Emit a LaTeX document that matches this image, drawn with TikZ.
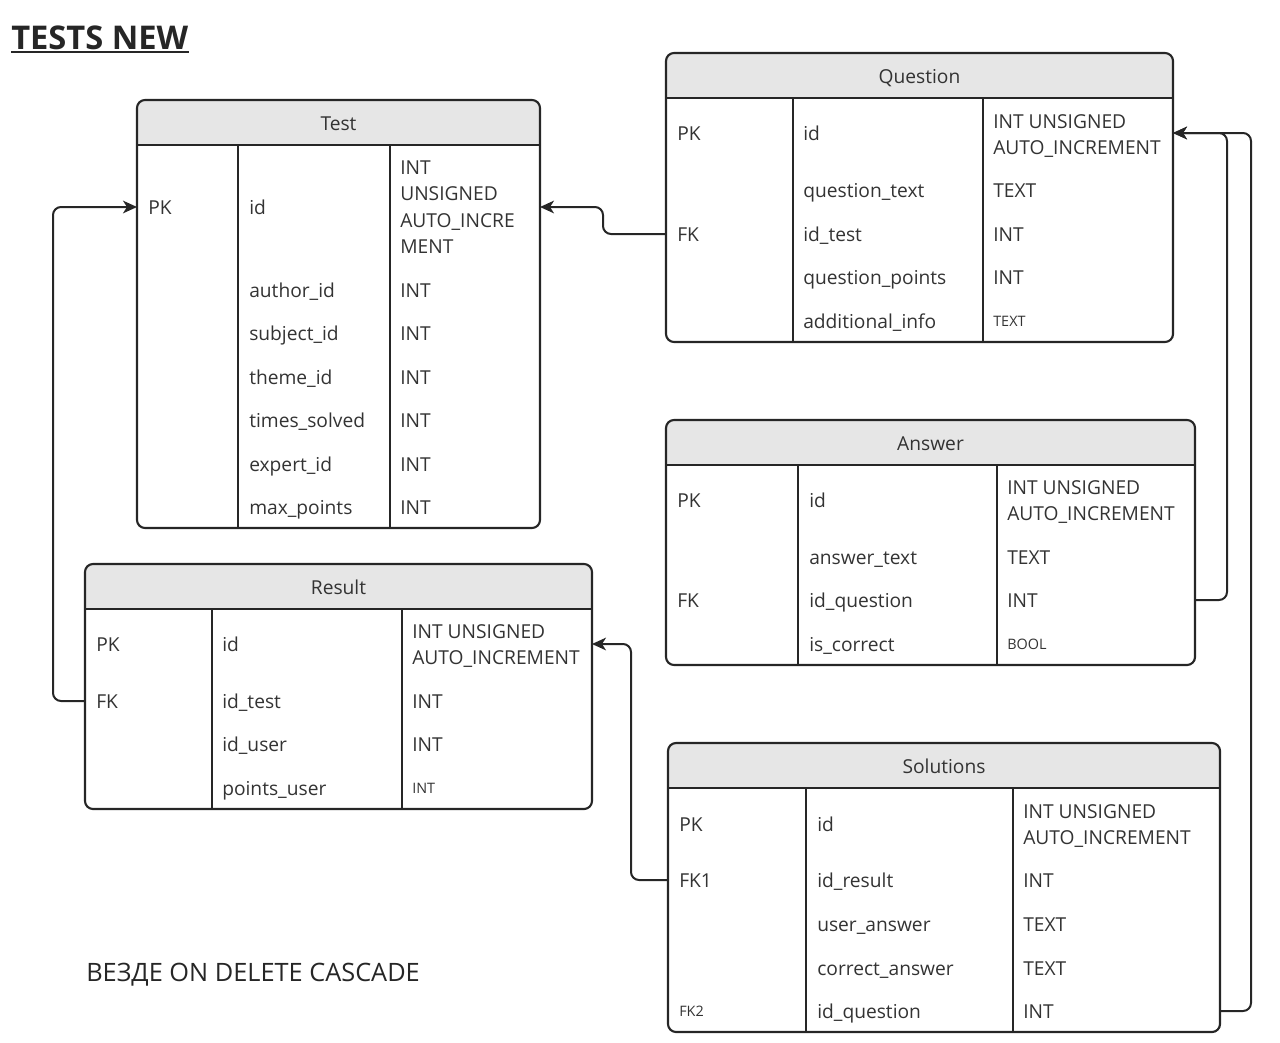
\documentclass[tikz,border=0pt]{standalone}
\usepackage{fontspec}
\setmainfont{Open Sans}
\usetikzlibrary{arrows.meta}
\definecolor{ink}{HTML}{333333}
\definecolor{hdr}{HTML}{E6E6E6}
\definecolor{lin}{HTML}{262626}
\tikzset{
 ftxt/.style={anchor=base west, inner sep=0pt, text=ink, font=\fontsize{14.4}{16}\selectfont},
 fsmall/.style={ftxt, font=\fontsize{10.8}{12}\selectfont},
 htxt/.style={anchor=base, inner sep=0pt, text=ink, font=\fontsize{14.4}{16}\selectfont},
 frame/.style={draw=lin, line width=1.6pt, rounded corners=6pt},
 gridline/.style={draw=lin, line width=1.6pt},
 conn/.style={draw=lin, line width=1.5pt, rounded corners=6pt, -{Stealth[length=10.5pt,width=9.5pt,inset=3pt]}},
}
\newcommand\ft[4]{\node[ftxt] (#1) at (#2,{#3+7.5}) {#4};}
\newcommand\fs[4]{\node[fsmall] (#1) at (#2,{#3+5.5}) {#4};}
\newcommand\tbl[8]{%
 \begin{scope}
 \clip (#2,#3) rectangle (#4,{#3+45});
 \fill[hdr, rounded corners=6pt] (#2,#3) rectangle (#4,#5);
 \end{scope}
 \draw[frame] (#2,#3) rectangle (#4,#5);
 \draw[gridline] (#2,{#3+45}) -- (#4,{#3+45});
 \draw[gridline] (#6,{#3+45}) -- (#6,#5);
 \draw[gridline] (#7,{#3+45}) -- (#7,#5);
 \node[htxt] (#1) at ({(#2+#4)/2},{#3+22.5+7.5}) {#8};
}
\begin{document}
\begin{tikzpicture}[x=0.75pt,y=-0.75pt]
\useasboundingbox (0,0) rectangle (1280,1042);
% title
\node[anchor=base west, inner sep=0pt, text=black!85, font=\fontsize{24.5}{28}\selectfont\bfseries] (title) at (11,49) {TESTS NEW};
\draw[line width=1.5pt, black!85] ([yshift=-2.5pt]title.base west) -- ([yshift=-2.5pt]title.base east);
% tables
\tbl{test}{137}{100}{540}{528}{238}{390}{Test}
\tbl{question}{666}{53}{1173}{342}{793}{983}{Question}
\tbl{answer}{666}{420}{1195}{665}{798}{997}{Answer}
\tbl{result}{85}{564}{592}{809}{212}{402}{Result}
\tbl{solutions}{668}{743}{1220}{1032}{806}{1013}{Solutions}
% Test fields
\ft{t1}{148}{207}{PK}
\ft{t2}{249}{207}{id}
\ft{t3}{400}{167}{INT}
\ft{t4}{400}{193}{UNSIGNED}
\ft{t5}{400}{220}{AUTO\_INCRE}
\ft{t6}{400}{246}{MENT}
\ft{t7}{249}{290}{author\_id}
\ft{t8}{400}{290}{INT}
\ft{t9}{249}{333}{subject\_id}
\ft{t10}{400}{333}{INT}
\ft{t11}{249}{377}{theme\_id}
\ft{t12}{400}{377}{INT}
\ft{t13}{249}{420}{times\_solved}
\ft{t14}{400}{420}{INT}
\ft{t15}{249}{464}{expert\_id}
\ft{t16}{400}{464}{INT}
\ft{t17}{249}{507}{max\_points}
\ft{t18}{400}{507}{INT}
% Question fields
\ft{q1}{677}{133}{PK}
\ft{q2}{803}{133}{id}
\ft{q3}{993}{121}{INT UNSIGNED}
\ft{q4}{993}{147}{AUTO\_INCREMENT}
\ft{q5}{803}{190}{question\_text}
\ft{q6}{993}{190}{TEXT}
\ft{q7}{677}{234}{FK}
\ft{q8}{803}{234}{id\_test}
\ft{q9}{993}{234}{INT}
\ft{q10}{803}{277}{question\_points}
\ft{q11}{993}{277}{INT}
\ft{q12}{803}{321}{additional\_info}
\fs{q13}{993}{321}{TEXT}
% Answer fields
\ft{a1}{677}{500}{PK}
\ft{a2}{809}{500}{id}
\ft{a3}{1007}{487}{INT UNSIGNED}
\ft{a4}{1007}{513}{AUTO\_INCREMENT}
\ft{a5}{809}{557}{answer\_text}
\ft{a6}{1007}{557}{TEXT}
\ft{a7}{677}{600}{FK}
\ft{a8}{809}{600}{id\_question}
\ft{a9}{1007}{600}{INT}
\ft{a10}{809}{644}{is\_correct}
\fs{a11}{1007}{644}{BOOL}
% Result fields
\ft{r1}{96}{644}{PK}
\ft{r2}{222}{644}{id}
\ft{r3}{412}{631}{INT UNSIGNED}
\ft{r4}{412}{657}{AUTO\_INCREMENT}
\ft{r5}{96}{701}{FK}
\ft{r6}{222}{701}{id\_test}
\ft{r7}{412}{701}{INT}
\ft{r8}{222}{744}{id\_user}
\ft{r9}{412}{744}{INT}
\ft{r10}{222}{788}{points\_user}
\fs{r11}{412}{788}{INT}
% Solutions fields
\ft{s1}{679}{824}{PK}
\ft{s2}{817}{824}{id}
\ft{s3}{1023}{811}{INT UNSIGNED}
\ft{s4}{1023}{837}{AUTO\_INCREMENT}
\ft{s5}{679}{880}{FK1}
\ft{s6}{817}{880}{id\_result}
\ft{s7}{1023}{880}{INT}
\ft{s8}{817}{924}{user\_answer}
\ft{s9}{1023}{924}{TEXT}
\ft{s10}{817}{968}{correct\_answer}
\ft{s11}{1023}{968}{TEXT}
\fs{s12}{679}{1011}{FK2}
\ft{s13}{817}{1011}{id\_question}
\ft{s14}{1023}{1011}{INT}
% note
\node[anchor=base west, inner sep=0pt, text=black!85, font=\fontsize{19}{22}\selectfont] (note) at (86,981) {ВЕЗДЕ ON DELETE CASCADE};
% connector endpoints
\coordinate (testL) at (137,207);
\coordinate (testR) at (540,207);
\coordinate (qfk) at (666,234);
\coordinate (qR) at (1173,133);
\coordinate (afk) at (1195,600);
\coordinate (rfk) at (85,701);
\coordinate (resR) at (592,644);
\coordinate (sfk1) at (668,880);
\coordinate (sfk2) at (1220,1011);
% connectors
\draw[conn] (qfk) -- ++(-63,0) |- (testR);
\draw[conn] (rfk) -- ++(-32,0) |- (testL);
\draw[conn] (sfk1) -- ++(-37,0) |- (resR);
\draw[conn] (afk) -- ++(32,0) |- (qR);
\draw[conn] (sfk2) -- ++(31,0) |- (qR);
\end{tikzpicture}
\end{document}
